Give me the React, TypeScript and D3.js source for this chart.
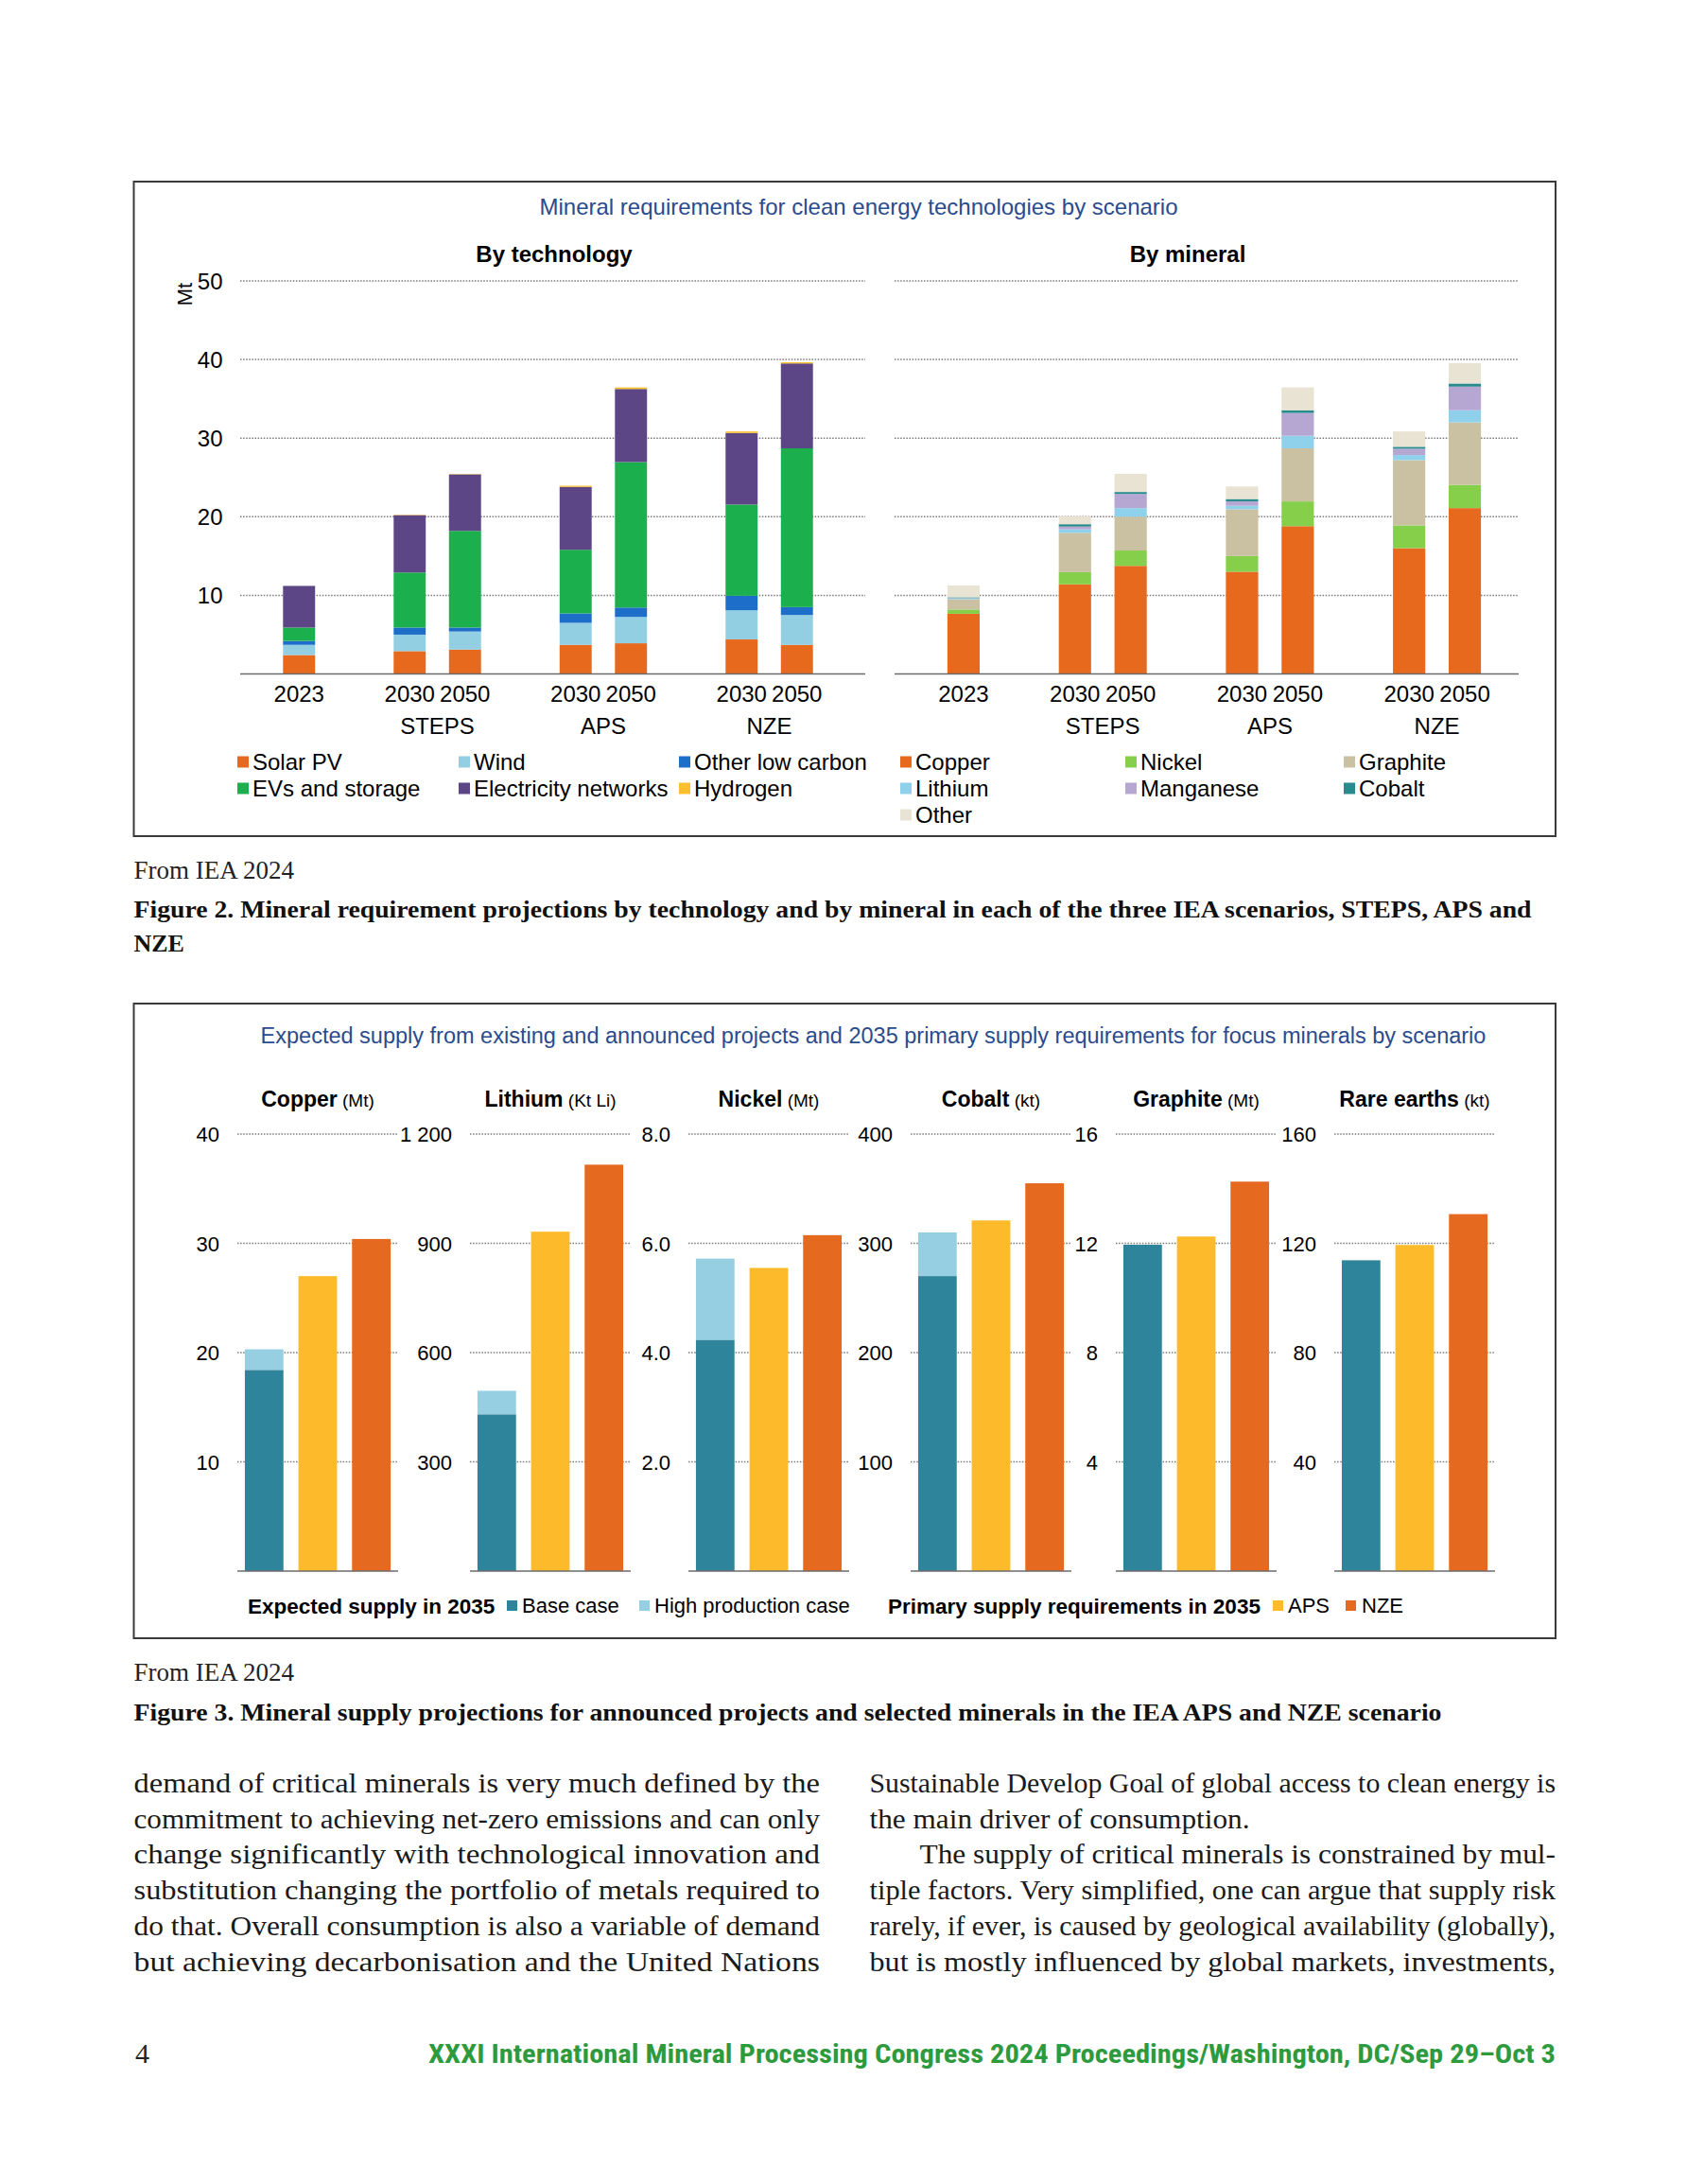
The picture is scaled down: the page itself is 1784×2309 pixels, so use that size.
import React from "react";
import * as d3 from "d3";

// ---- Figure 2 data (Mt) ----
const barYears = ["2023", "2030", "2050", "2030", "2050", "2030", "2050"];
const barScenarios = ["", "STEPS", "STEPS", "APS", "APS", "NZE", "NZE"];

const techNames = ["Solar PV", "Wind", "Other low carbon", "EVs and storage", "Electricity networks", "Hydrogen"];
const solarPV = [2.4, 2.9, 3.1, 3.7, 3.9, 4.4, 3.7];
const wind = [1.3, 2.1, 2.3, 2.8, 3.35, 3.7, 3.8];
const otherLowCarbon = [0.5, 0.9, 0.5, 1.2, 1.2, 1.85, 1.0];
const evsStorage = [1.7, 7.0, 12.3, 8.1, 18.5, 11.6, 20.2];
const electricityNetworks = [5.3, 7.3, 7.2, 8.0, 9.3, 9.1, 10.8];
const hydrogen = [0, 0.05, 0.05, 0.15, 0.2, 0.2, 0.15];

const mineralNames = ["Copper", "Nickel", "Graphite", "Lithium", "Manganese", "Cobalt", "Other"];
const copper = [7.65, 11.4, 13.75, 13.0, 18.8, 16.0, 21.1];
const nickel = [0.55, 1.55, 1.95, 2.0, 3.15, 2.9, 2.95];
const graphite = [1.3, 5.0, 4.3, 5.95, 6.75, 8.3, 7.95];
const lithium = [0.1, 0.45, 1.1, 0.45, 1.6, 0.65, 1.55];
const manganese = [0.05, 0.35, 1.8, 0.55, 2.9, 0.8, 3.0];
const cobalt = [0.1, 0.3, 0.25, 0.3, 0.35, 0.25, 0.4];
const otherMinerals = [1.5, 1.0, 2.3, 1.6, 2.9, 1.95, 2.6];

const topTicks = [10, 20, 30, 40, 50];

// ---- Figure 3 data ----
const supplyMinerals = ["Copper", "Lithium", "Nickel", "Cobalt", "Graphite", "Rare earths"];
const supplyUnits = ["(Mt)", "(Kt Li)", "(Mt)", "(kt)", "(Mt)", "(kt)"];
const supplyMax = [40, 1200, 8, 400, 16, 160];
const supplyTicks = [
  [10, 20, 30, 40],
  [300, 600, 900, 1200],
  [2, 4, 6, 8],
  [100, 200, 300, 400],
  [4, 8, 12, 16],
  [40, 80, 120, 160],
];
const supplyTickLabels = [
  ["10", "20", "30", "40"],
  ["300", "600", "900", "1 200"],
  ["2.0", "4.0", "6.0", "8.0"],
  ["100", "200", "300", "400"],
  ["4", "8", "12", "16"],
  ["40", "80", "120", "160"],
];
const baseCase = [18.4, 430, 4.23, 270, 11.95, 113.8];
const highProduction = [20.3, 495, 5.72, 310, 11.95, 113.8];
const apsRequirement = [27.0, 932, 5.55, 321, 12.25, 119.4];
const nzeRequirement = [30.4, 1116, 6.15, 355, 14.26, 130.7];

// ---- page text ----
const leftColumn = [
  "demand of critical minerals is very much defined by the",
  "commitment to achieving net-zero emissions and can only",
  "change significantly with technological innovation and",
  "substitution changing the portfolio of metals required to",
  "do that. Overall consumption is also a variable of demand",
  "but achieving decarbonisation and the United Nations",
];
const rightColumn = [
  "Sustainable Develop Goal of global access to clean energy is",
  "the main driver of consumption.",
  "The supply of critical minerals is constrained by mul-",
  "tiple factors. Very simplified, one can argue that supply risk",
  "rarely, if ever, is caused by geological availability (globally),",
  "but is mostly influenced by global markets, investments,",
];

const techColors = ["#e7691e", "#92cfe3", "#1d6ec9", "#1bb04d", "#5c4685", "#fcbf2d"];
const mineralColors = ["#e7691e", "#86cf4b", "#cac0a2", "#8fd1ea", "#b6a6d2", "#2a8b8f", "#e8e3d3"];
const supplyColors = { base: "#2e859b", high: "#96cfe1", aps: "#fdbb2b", nze: "#e5691f" };

const SANS = "'Liberation Sans', Arial, sans-serif";
const SERIF = "'Liberation Serif', 'Times New Roman', serif";
const GRID = { stroke: "#7a7a7a", strokeWidth: 1.5, strokeDasharray: "1.5 1.6" };

const barKeys = barYears.map((y, i) => `${barScenarios[i]} ${y}`);
const slotDomain: string[] = [];
barKeys.forEach((k, i) => {
  if (i > 0 && barScenarios[i] !== barScenarios[i - 1]) slotDomain.push("gap" + i);
  slotDomain.push(k);
});

function buildStack(names: string[], series: number[][]) {
  const rows = barKeys.map((k, i) => {
    const r: any = { key: k };
    names.forEach((n, j) => (r[n] = series[j][i]));
    return r;
  });
  return d3.stack<any>().keys(names)(rows);
}

const yTop = d3.scaleLinear().domain([0, 50]).range([712.5, 297]);

function StackPanel({ stack, colors, band, grid, title, titleX, names, legendX }: any) {
  const x = d3.scaleBand<string>().domain(slotDomain).range(band).paddingInner(0.42).paddingOuter(0.21);
  const scen = ["STEPS", "APS", "NZE"];
  return (
    <g>
      <text x={titleX} y={277} textAnchor="middle" fontFamily={SANS} fontWeight="bold" fontSize={24}>{title}</text>
      {topTicks.map((t) => (
        <line key={t} x1={grid[0]} x2={grid[1]} y1={yTop(t)} y2={yTop(t)} {...GRID} />
      ))}
      {stack.map((s: any, j: number) => (
        <g key={s.key} fill={colors[j]}>
          {s.map((d: any, i: number) => (
            <rect key={i} x={x(barKeys[i])} width={x.bandwidth()} y={yTop(d[1])} height={Math.max(0, yTop(d[0]) - yTop(d[1]))} />
          ))}
        </g>
      ))}
      <line x1={grid[0]} x2={grid[1]} y1={yTop(0)} y2={yTop(0)} stroke="#6b6b6b" strokeWidth={1.6} />
      {barKeys.map((k, i) => (
        <text key={k} x={(x(k) as number) + x.bandwidth() / 2} y={741.5} textAnchor="middle" fontFamily={SANS} fontSize={24}>{barYears[i]}</text>
      ))}
      {scen.map((s) => {
        const ks = barKeys.filter((_, i) => barScenarios[i] === s);
        const cx = d3.mean(ks, (k) => (x(k) as number) + x.bandwidth() / 2) as number;
        return <text key={s} x={cx} y={775.5} textAnchor="middle" fontFamily={SANS} fontSize={24}>{s}</text>;
      })}
      {names.map((n: string, i: number) => {
        const lx = legendX[i % 3];
        const ly = 805.5 + Math.floor(i / 3) * 28;
        return (
          <g key={n}>
            <rect x={lx} y={ly - 6} width={12} height={12} fill={colors[i]} />
            <text x={lx + 16} y={ly + 8.5} fontFamily={SANS} fontSize={24}>{n}</text>
          </g>
        );
      })}
    </g>
  );
}

const plotLeft = [251, 497, 728, 963, 1180, 1411];
const plotWidth = 170;

function SupplyPanel({ i }: { i: number }) {
  const y = d3.scaleLinear().domain([0, supplyMax[i]]).range([1661, 1199]);
  const x = d3.scaleBand<string>().domain(["supply", "APS", "NZE"]).range([plotLeft[i], plotLeft[i] + plotWidth]).paddingInner(0.28).paddingOuter(0.14);
  const bw = x.bandwidth();
  return (
    <g>
      <text x={plotLeft[i] + plotWidth / 2} y={1170} textAnchor="middle" fontFamily={SANS}>
        <tspan fontWeight="bold" fontSize={23}>{supplyMinerals[i]}</tspan>
        <tspan fontSize={19}>{" " + supplyUnits[i]}</tspan>
      </text>
      {supplyTicks[i].map((t, j) => (
        <g key={t}>
          <line x1={plotLeft[i]} x2={plotLeft[i] + plotWidth} y1={y(t)} y2={y(t)} {...GRID} />
          <text x={plotLeft[i] - 19} y={y(t) + 8} textAnchor="end" fontFamily={SANS} fontSize={22}>{supplyTickLabels[i][j]}</text>
        </g>
      ))}
      {highProduction[i] > baseCase[i] && (
        <rect x={x("supply")} width={bw} y={y(highProduction[i])} height={y(baseCase[i]) - y(highProduction[i])} fill={supplyColors.high} />
      )}
      <rect x={x("supply")} width={bw} y={y(baseCase[i])} height={y(0) - y(baseCase[i])} fill={supplyColors.base} />
      <rect x={x("APS")} width={bw} y={y(apsRequirement[i])} height={y(0) - y(apsRequirement[i])} fill={supplyColors.aps} />
      <rect x={x("NZE")} width={bw} y={y(nzeRequirement[i])} height={y(0) - y(nzeRequirement[i])} fill={supplyColors.nze} />
      <line x1={plotLeft[i]} x2={plotLeft[i] + plotWidth} y1={y(0)} y2={y(0)} stroke="#6b6b6b" strokeWidth={1.6} />
    </g>
  );
}

export default function App() {
  const techStack = buildStack(techNames, [solarPV, wind, otherLowCarbon, evsStorage, electricityNetworks, hydrogen]);
  const mineralStack = buildStack(mineralNames, [copper, nickel, graphite, lithium, manganese, cobalt, otherMinerals]);
  const colW = 725.5;

  return (
    <div style={{ position: "absolute", left: 0, top: 0 }}>
      <svg width={1784} height={2309} viewBox="0 0 1784 2309" style={{ display: "block", background: "#fff" }}>
        <rect width={1784} height={2309} fill="#fff" />

        {/* Figure 2 */}
        <rect x={141.5} y={192} width={1503.5} height={692} fill="none" stroke="#3a3a3a" strokeWidth={2} />
        <text x={908} y={227} textAnchor="middle" fontFamily={SANS} fontSize={24} fill="#2a4b8d">
          Mineral requirements for clean energy technologies by scenario
        </text>
        <text transform="translate(203,311) rotate(-90)" textAnchor="middle" fontFamily={SANS} fontSize={22}>Mt</text>
        {topTicks.map((t) => (
          <text key={t} x={235.5} y={yTop(t) + 8.5} textAnchor="end" fontFamily={SANS} fontSize={24}>{t}</text>
        ))}
        <StackPanel stack={techStack} colors={techColors} band={[287, 872]} grid={[254, 915]} title="By technology" titleX={586} names={techNames} legendX={[251, 485, 718]} />
        <StackPanel stack={mineralStack} colors={mineralColors} band={[989.5, 1578.5]} grid={[946, 1606]} title="By mineral" titleX={1256} names={mineralNames} legendX={[952, 1190, 1421]} />

        <text x={141.5} y={929} fontFamily={SERIF} fontSize={27} fill="#222">From IEA 2024</text>
        <text x={141.5} y={970} fontFamily={SERIF} fontWeight="bold" fontSize={26} fill="#111" textLength={1478} lengthAdjust="spacingAndGlyphs">
          Figure 2. Mineral requirement projections by technology and by mineral in each of the three IEA scenarios, STEPS, APS and
        </text>
        <text x={141.5} y={1006} fontFamily={SERIF} fontWeight="bold" fontSize={26} fill="#111">NZE</text>

        {/* Figure 3 */}
        <rect x={141.5} y={1061} width={1503.5} height={671} fill="none" stroke="#3a3a3a" strokeWidth={2} />
        <text x={923.5} y={1103} textAnchor="middle" fontFamily={SANS} fontSize={23.5} fill="#2a4b8d">
          Expected supply from existing and announced projects and 2035 primary supply requirements for focus minerals by scenario
        </text>
        {supplyMinerals.map((m, i) => (
          <SupplyPanel key={m} i={i} />
        ))}
        <g fontFamily={SANS} fontSize={22}>
          <text x={262} y={1706} fontWeight="bold" fontSize={22.5}>Expected supply in 2035</text>
          <rect x={536} y={1692} width={11} height={11} fill={supplyColors.base} />
          <text x={552} y={1705}>Base case</text>
          <rect x={676} y={1692} width={11} height={11} fill={supplyColors.high} />
          <text x={692} y={1705}>High production case</text>
          <text x={939} y={1706} fontWeight="bold" fontSize={22.5}>Primary supply requirements in 2035</text>
          <rect x={1346} y={1692} width={11} height={11} fill={supplyColors.aps} />
          <text x={1362} y={1705}>APS</text>
          <rect x={1423} y={1692} width={11} height={11} fill={supplyColors.nze} />
          <text x={1440} y={1705}>NZE</text>
        </g>

        <text x={141.5} y={1777} fontFamily={SERIF} fontSize={27} fill="#222">From IEA 2024</text>
        <text x={141.5} y={1819} fontFamily={SERIF} fontWeight="bold" fontSize={26} fill="#111" textLength={1383} lengthAdjust="spacingAndGlyphs">
          Figure 3. Mineral supply projections for announced projects and selected minerals in the IEA APS and NZE scenario
        </text>

        {/* body text */}
        <g fontFamily={SERIF} fontSize={30} fill="#1a1a1a">
          {leftColumn.map((l, i) => (
            <text key={i} x={141.5} y={1895 + i * 37.7} textLength={colW} lengthAdjust="spacingAndGlyphs">{l}</text>
          ))}
          {rightColumn.map((l, i) => {
            const indent = i === 2 ? 53 : 0;
            const len = i === 1 ? 402 : colW - indent;
            return (
              <text key={i} x={919.5 + indent} y={1895 + i * 37.7} textLength={len} lengthAdjust="spacingAndGlyphs">{l}</text>
            );
          })}
        </g>

        <text x={143} y={2181} fontFamily={SERIF} fontSize={30} fill="#222">4</text>
        <text x={1645} y={2181} textAnchor="end" fontFamily="'Roboto Condensed', 'Liberation Sans Narrow', Roboto, sans-serif" fontWeight="bold" fontSize={27} fill="#2e9a3e" textLength={1192} lengthAdjust="spacingAndGlyphs">
          XXXI International Mineral Processing Congress 2024 Proceedings/Washington, DC/Sep 29–Oct 3
        </text>
      </svg>
    </div>
  );
}
